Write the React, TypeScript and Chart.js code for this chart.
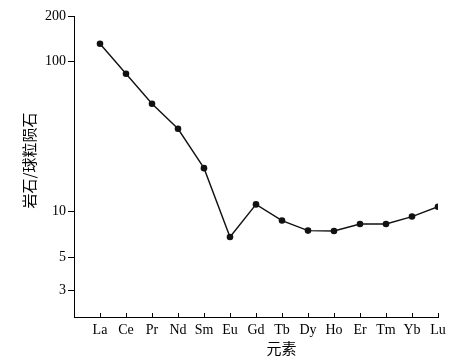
import React, { useEffect, useRef } from "react";
import { Chart, registerables } from "chart.js";

Chart.register(...registerables);

const elements = ["La", "Ce", "Pr", "Nd", "Sm", "Eu", "Gd", "Tb", "Dy", "Ho", "Er", "Tm", "Yb", "Lu"];
const ratios = [130.7, 82.6, 52.2, 35.6, 19.5, 6.8, 11.2, 8.75, 7.5, 7.45, 8.3, 8.3, 9.3, 10.8];
const yTicks = [3, 5, 10, 100, 200];
const yTitle = "岩石/球粒陨石";
const xTitle = "元素";

const SERIF = "'Liberation Serif', 'Times New Roman', serif";
const CJK = "'Noto Sans CJK SC', sans-serif";

export default function App() {
  const ref = useRef<HTMLCanvasElement | null>(null);

  useEffect(() => {
    if (!ref.current) return;
    const titlePlugin = {
      id: "customTitles",
      afterDraw(chart: any) {
        const ctx = chart.ctx;
        const ca = chart.chartArea;
        const xs = chart.scales.x;
        ctx.save();
        // inward x ticks
        ctx.strokeStyle = "#000";
        ctx.lineWidth = 1;
        elements.forEach((_, i) => {
          const px = Math.round(xs.getPixelForValue(i)) + 0.5;
          ctx.beginPath();
          ctx.moveTo(px, ca.bottom);
          ctx.lineTo(px, ca.bottom - 4);
          ctx.stroke();
        });
        ctx.fillStyle = "#000";
        ctx.font = "15px " + CJK;
        ctx.textAlign = "center";
        ctx.textBaseline = "middle";
        ctx.fillText(xTitle, ca.left + (ca.right - ca.left) * 0.57, 348);
        ctx.translate(29, ca.top + (ca.bottom - ca.top) * 0.48);
        ctx.rotate(-Math.PI / 2);
        ctx.fillText(yTitle, 0, 0);
        ctx.restore();
      },
    };

    const chart = new Chart(ref.current, {
      type: "line",
      data: {
        datasets: [
          {
            data: ratios.map((v, i) => ({ x: i, y: v })),
            borderColor: "#111",
            backgroundColor: "#111",
            borderWidth: 1.4,
            pointRadius: 3.3,
            pointBackgroundColor: "#111",
            pointBorderWidth: 0,
            tension: 0,
          },
        ],
      },
      options: {
        animation: false,
        responsive: false,
        layout: { padding: { left: 0, top: 16, right: 26, bottom: 0 } },
        plugins: { legend: { display: false }, tooltip: { enabled: false } },
        scales: {
          x: {
            type: "linear",
            min: -1,
            max: elements.length - 1,
            afterBuildTicks: (scale: any) => {
              scale.ticks = elements.map((_, i) => ({ value: i }));
            },
            afterFit: (scale: any) => {
              scale.height = 46;
            },
            ticks: {
              autoSkip: false,
              maxRotation: 0,
              padding: 5,
              color: "#000",
              font: { family: SERIF, size: 14 },
              callback: (v: any) => elements[v] ?? "",
            },
            grid: { display: false, drawTicks: false },
            border: { display: true, color: "#000", width: 1 },
          },
          y: {
            type: "logarithmic",
            min: 2,
            max: 200,
            afterBuildTicks: (scale: any) => {
              scale.ticks = yTicks.map((v) => ({ value: v }));
            },
            afterFit: (scale: any) => {
              scale.width = 74;
            },
            ticks: {
              padding: 2,
              color: "#000",
              font: { family: SERIF, size: 14 },
              callback: (v: any) => String(v),
            },
            grid: {
              display: true,
              drawOnChartArea: false,
              drawTicks: true,
              tickLength: 6,
              color: "#000",
            },
            border: { display: true, color: "#000", width: 1 },
          },
        },
      },
      plugins: [titlePlugin],
    });
    return () => chart.destroy();
  }, []);

  return (
    <div style={{ position: "fixed", left: 0, top: 0, width: 464, height: 363, background: "#fff" }}>
      <canvas ref={ref} width={464} height={363} style={{ width: 464, height: 363 }} />
    </div>
  );
}
